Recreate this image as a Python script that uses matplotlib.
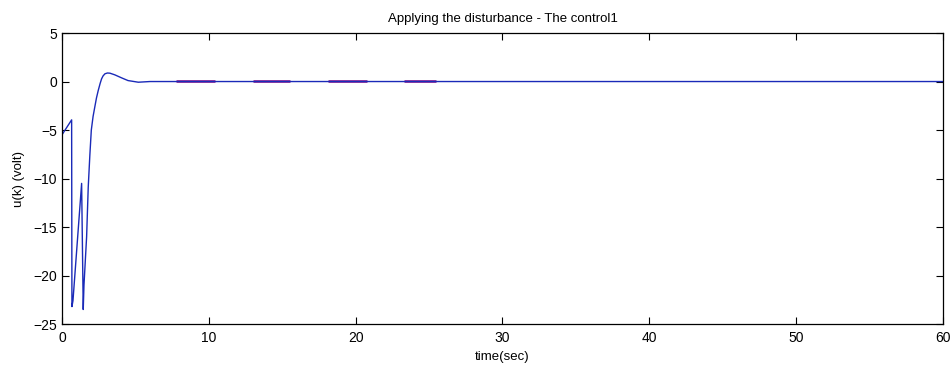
import matplotlib
matplotlib.use("Agg")
import matplotlib.pyplot as plt

# control signal u(k)
t = [0.0, 0.66, 0.68, 0.75, 1.34, 1.45, 1.5, 1.68, 1.79, 1.9, 2.0, 2.12, 2.24, 2.35, 2.47, 2.6, 2.7,
     2.8, 2.93, 3.1, 3.27, 3.6, 4.06, 4.5, 5.2, 6.0, 10.0, 20.0, 30.0, 40.0, 50.0, 60.0]
u = [-5.5, -3.95, -23.2, -22.6, -10.5, -23.5, -21.0, -16.0, -10.9, -7.6, -5.0, -3.6, -2.6, -1.7, -0.93, -0.2, 0.28,
     0.58, 0.8, 0.88, 0.86, 0.69, 0.38, 0.1, -0.07, 0.0, 0.0, 0.0, 0.0, 0.0, 0.0, 0.0]

# disturbance intervals (purple)
dist_start = [7.8, 13.0, 18.1, 23.3]
dist_end = [10.4, 15.5, 20.75, 25.5]
dist_level = 0.1

title = "Applying the disturbance - The control1"
xlabel = "time(sec)"
ylabel = "u(k) (volt)"
xticks = [0, 10, 20, 30, 40, 50, 60]
yticks = [5, 0, -5, -10, -15, -20, -25]

plt.rcParams['font.family'] = ['Liberation Sans', 'DejaVu Sans']
fig = plt.figure(figsize=(9.53, 3.67), dpi=100)
ax = fig.add_axes([0.065, 0.117, 0.9245, 0.793])

for s, e in zip(dist_start, dist_end):
    ax.plot([s, e], [dist_level, dist_level], color='#800080', lw=1.8, solid_capstyle='butt')
ax.plot(t, u, color='#1a2ab8', lw=1.0)

ax.set_xlim(0, 60)
ax.set_ylim(-25, 5)
ax.set_xticks(xticks)
ax.set_yticks(yticks)
ax.tick_params(direction='in', top=True, right=True, labelsize=10, length=5, width=0.8)
ax.tick_params(axis='x', pad=5)
for sp in ax.spines.values():
    sp.set_linewidth(0.9)
ax.set_title(title, fontsize=9.5, pad=8)
ax.set_xlabel(xlabel, fontsize=9.5, labelpad=4)
ax.set_ylabel(ylabel, fontsize=9.5, labelpad=6)

fig.savefig("out.png", dpi=100)
